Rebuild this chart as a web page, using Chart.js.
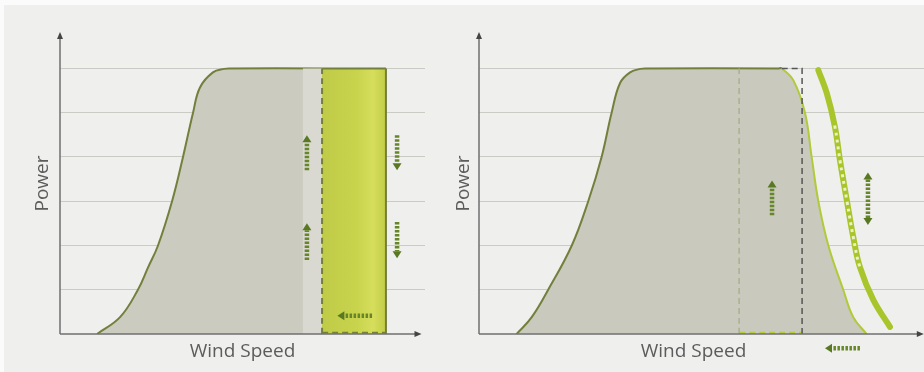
<!DOCTYPE html>
<html>
<head>
<meta charset="utf-8">
<script src="https://cdn.jsdelivr.net/npm/chart.js@4/dist/chart.umd.min.js"></script>
<style>
  html, body { margin: 0; padding: 0; background: #fbfbfb; }
  #bg { position: absolute; left: 4px; top: 5px; width: 920px; height: 367px; background: #efefed; }
  .panel { position: absolute; top: 0; height: 372px; }
</style>
</head>
<body>
<div id="bg"></div>
<div class="panel" style="left:0;width:462px"><canvas id="leftChart" width="462" height="372"></canvas></div>
<div class="panel" style="left:452px;width:472px"><canvas id="rightChart" width="472" height="372"></canvas></div>
<script>
// Texts
const yTitle = 'Power';
const xTitle = 'Wind Speed';

// Left panel: power curve (wind speed, power)
const leftPowerX = [2.03, 3.29, 4.27, 4.82, 5.37, 6.14, 6.74, 7.29, 7.67, 8.38, 9.0, 9.3, 14.36];
const leftPowerY = [0, 0.38, 1, 1.5, 2, 3, 4, 5, 5.57, 5.91, 5.99, 6, 6];
const leftBand = [13.3, 14.36];      // lighter strip before the cut-out
const leftExtra = [14.36, 17.86];    // green block (extended range)
const leftAxisEnd = 19.7;

// Right panel: power curve with high wind ride-through
const rightPowerX = [1.69, 2.37, 3.11, 4.17, 4.91, 5.51, 5.96, 6.34, 6.79, 7.25, 7.55, 13.45, 13.6, 14.13, 14.65, 14.95, 15.25, 15.7, 16.37, 16.82, 17.42];
const rightPowerY = [0, 0.38, 1, 2, 3, 4, 5, 5.67, 5.91, 5.99, 6, 6, 6, 5.73, 5, 4, 3, 2, 1, 0.38, 0];
const rightShiftX = [15.25, 15.63, 16.0, 16.22, 16.53, 16.82, 17.12, 17.72, 18.47];
const rightShiftY = [5.96, 5.44, 4.67, 3.93, 3.02, 2.19, 1.51, 0.77, 0.16];
const rightCutA = 11.69;
const rightCutB = 14.52;
const rightFlatEnd = 13.6;
const rightAxisEnd = 19.9;

// arrows [x0, y0, x1, y1, both ends]
const leftArrows = [
  [13.53, 3.7, 13.53, 4.49, false],
  [13.53, 1.67, 13.53, 2.5, false],
  [18.47, 4.49, 18.47, 3.7, false],
  [18.47, 2.53, 18.47, 1.71, false],
  [17.1, 0.41, 15.2, 0.41, false]
];
const rightArrows = [
  [13.17, 2.68, 13.17, 3.47, false],
  [17.48, 2.46, 17.48, 3.65, true],
  [17.12, -0.32, 15.55, -0.32, false]
];

const olive = '#737f3c';
const gridColor = 'rgba(150,150,140,0.4)';
const tension = 0.4;

const zip = (xs, ys) => xs.map((x, i) => ({ x: x, y: ys[i] }));

// pale gaps only in the middle stretch of the thick curve
const midDash = [0, 58];
for (let i = 0; i < 21; i++) midDash.push(3, 4);
midDash.push(0, 500);

function drawArrow(ctx, x0, y0, x1, y1, both) {
  const dx = x1 - x0, dy = y1 - y0;
  const len = Math.hypot(dx, dy);
  const ux = dx / len, uy = dy / len;
  const head = 7, hw = 4.5;
  const sx = both ? x0 + ux * head : x0;
  const sy = both ? y0 + uy * head : y0;
  ctx.save();
  ctx.strokeStyle = '#67862a';
  ctx.lineWidth = 4.5;
  ctx.setLineDash([2.5, 1.5]);
  ctx.beginPath();
  ctx.moveTo(sx, sy);
  ctx.lineTo(x1 - ux * head, y1 - uy * head);
  ctx.stroke();
  ctx.setLineDash([]);
  ctx.fillStyle = '#597822';
  const tri = (tx, ty, vx, vy) => {
    ctx.beginPath();
    ctx.moveTo(tx, ty);
    ctx.lineTo(tx - vx * head - vy * hw, ty - vy * head + vx * hw);
    ctx.lineTo(tx - vx * head + vy * hw, ty - vy * head - vx * hw);
    ctx.closePath();
    ctx.fill();
  };
  tri(x1, y1, ux, uy);
  if (both) tri(x0, y0, -ux, -uy);
  ctx.restore();
}

const arrowPlugin = {
  id: 'arrows',
  afterDraw(chart) {
    const cfg = chart.options.plugins.arrows;
    const { ctx, scales: { x, y }, chartArea } = chart;
    const ox = x.getPixelForValue(0), oy = y.getPixelForValue(0);
    const ex = x.getPixelForValue(cfg.axisEnd);
    ctx.save();
    // grid lines run on to the canvas edge (same pixel snapping as Chart.js)
    if (cfg.extendGrid) {
      ctx.strokeStyle = gridColor;
      ctx.lineWidth = 1;
      y.ticks.forEach(t => {
        if (t.value < 1 || t.value > 6 || !Number.isInteger(t.value)) return;
        const py = Math.round(y.getPixelForValue(t.value) - 0.5) + 0.5;
        ctx.beginPath();
        ctx.moveTo(chartArea.right, py);
        ctx.lineTo(chart.width, py);
        ctx.stroke();
      });
    }
    ctx.strokeStyle = '#707070';
    ctx.lineWidth = 1.5;
    ctx.beginPath();
    ctx.moveTo(ox, oy); ctx.lineTo(ox, chartArea.top + 2);
    ctx.moveTo(ox, oy); ctx.lineTo(ex - 2, oy);
    ctx.stroke();
    ctx.fillStyle = '#444';
    ctx.beginPath();
    ctx.moveTo(ox, chartArea.top - 1); ctx.lineTo(ox - 3, chartArea.top + 6); ctx.lineTo(ox + 3, chartArea.top + 6);
    ctx.closePath(); ctx.fill();
    ctx.beginPath();
    ctx.moveTo(ex + 2, oy); ctx.lineTo(ex - 5, oy - 3); ctx.lineTo(ex - 5, oy + 3);
    ctx.closePath(); ctx.fill();
    ctx.restore();
    cfg.list.forEach(a => drawArrow(ctx,
      x.getPixelForValue(a[0]), y.getPixelForValue(a[1]),
      x.getPixelForValue(a[2]), y.getPixelForValue(a[3]), a[4]));
  }
};

const titleFont = { family: 'Open Sans', size: 19 };

function baseOptions(padding, yTitlePad, xMax, arrows, axisEnd, extendGrid) {
  return {
    responsive: false,
    animation: false,
    layout: { padding: padding },
    elements: { point: { radius: 0 }, line: { tension: tension } },
    plugins: {
      legend: { display: false },
      tooltip: { enabled: false },
      arrows: { list: arrows, axisEnd: axisEnd, extendGrid: extendGrid }
    },
    scales: {
      x: {
        type: 'linear', min: 0, max: xMax,
        grid: { display: false, drawTicks: false },
        border: { display: false },
        ticks: { display: false },
        title: { display: true, text: xTitle, color: '#5c5c5c', font: titleFont, padding: { top: 6.6, bottom: 5.6 } }
      },
      y: {
        min: 0, max: 6.8, z: 1,
        grid: {
          drawTicks: false,
          lineWidth: 1,
          color: c => (c.tick.value >= 1 && c.tick.value <= 6 && Number.isInteger(c.tick.value)) ? gridColor : 'rgba(0,0,0,0)'
        },
        border: { display: false },
        ticks: { display: false, stepSize: 1 },
        title: { display: true, text: yTitle, color: '#5c5c5c', font: titleFont, padding: yTitlePad }
      }
    }
  };
}

// ---- left chart ----
new Chart(document.getElementById('leftChart'), {
  type: 'line',
  data: {
    datasets: [
      { data: [{ x: leftExtra[1], y: 0 }, { x: leftExtra[1], y: 6 }], borderColor: olive, borderWidth: 2, order: 1 },
      { data: [{ x: leftExtra[0], y: 0 }, { x: leftExtra[0], y: 6 }], borderColor: olive, borderWidth: 2, borderDash: [6, 4], order: 1 },
      { data: [{ x: leftExtra[0], y: 0.03 }, { x: leftExtra[1], y: 0.03 }], borderColor: olive, borderWidth: 2, borderDash: [6, 4], order: 1 },
      {
        data: [{ x: leftExtra[0], y: 6 }, { x: leftExtra[1], y: 6 }],
        fill: 'origin', borderColor: olive, borderWidth: 2, order: 2,
        backgroundColor: c => {
          const a = c.chart.chartArea;
          if (!a) return '#c6d14a';
          const sx = c.chart.scales.x;
          const g = c.chart.ctx.createLinearGradient(sx.getPixelForValue(leftExtra[0]), 0, sx.getPixelForValue(leftExtra[1]), 0);
          g.addColorStop(0, '#bfcb47');
          g.addColorStop(0.55, '#c9d44d');
          g.addColorStop(0.8, '#d6de5c');
          g.addColorStop(1, '#c2cd46');
          return g;
        }
      },
      { data: [{ x: leftBand[0], y: 6 }, { x: leftBand[1], y: 6 }], fill: 'origin', backgroundColor: '#d9d9d2', borderWidth: 0, order: 3 },
      { data: zip(leftPowerX, leftPowerY), fill: 'origin', backgroundColor: '#cbcbc0', borderColor: olive, borderWidth: 2, order: 4 }
    ]
  },
  options: baseOptions({ left: 29.6, right: 37, top: 33, bottom: 3 }, { top: 2, bottom: 5.6 }, 20, leftArrows, leftAxisEnd, false),
  plugins: [arrowPlugin]
});

// ---- right chart ----
new Chart(document.getElementById('rightChart'), {
  type: 'line',
  data: {
    datasets: [
      { data: zip(rightShiftX, rightShiftY), borderColor: 'rgba(238,243,200,0.95)', borderWidth: 3,
        borderDash: midDash, order: 1 },
      { data: zip(rightShiftX, rightShiftY), borderColor: '#a9c52c', borderWidth: 6, borderCapStyle: 'round', order: 2 },
      { data: [{ x: rightCutB, y: 0 }, { x: rightCutB, y: 6 }, { x: rightFlatEnd, y: 6 }], borderColor: '#555', borderWidth: 1.5,
        borderDash: [6, 4], tension: 0, order: 3 },
      { data: [{ x: rightCutA, y: 0 }, { x: rightCutA, y: 6 }], borderColor: '#aab08a', borderWidth: 1.5, borderDash: [6, 4], order: 3 },
      { data: [{ x: rightCutA, y: 0.03 }, { x: rightCutB, y: 0.03 }], borderColor: '#b8cc40', borderWidth: 2, borderDash: [6, 4], order: 3 },
      { data: zip(rightPowerX, rightPowerY), fill: false, borderWidth: 2, borderColor: olive, order: 4,
        segment: { borderColor: c => c.p0.parsed.x >= rightFlatEnd ? '#b2c93a' : olive } },
      { data: zip(rightPowerX, rightPowerY), fill: 'origin', backgroundColor: '#c9c9be', borderWidth: 0, order: 5 }
    ]
  },
  options: baseOptions({ left: 0, right: 16, top: 33, bottom: 3 }, { top: 0, bottom: 4.2 }, 19.28, rightArrows, rightAxisEnd, true),
  plugins: [arrowPlugin]
});
</script>
</body>
</html>
